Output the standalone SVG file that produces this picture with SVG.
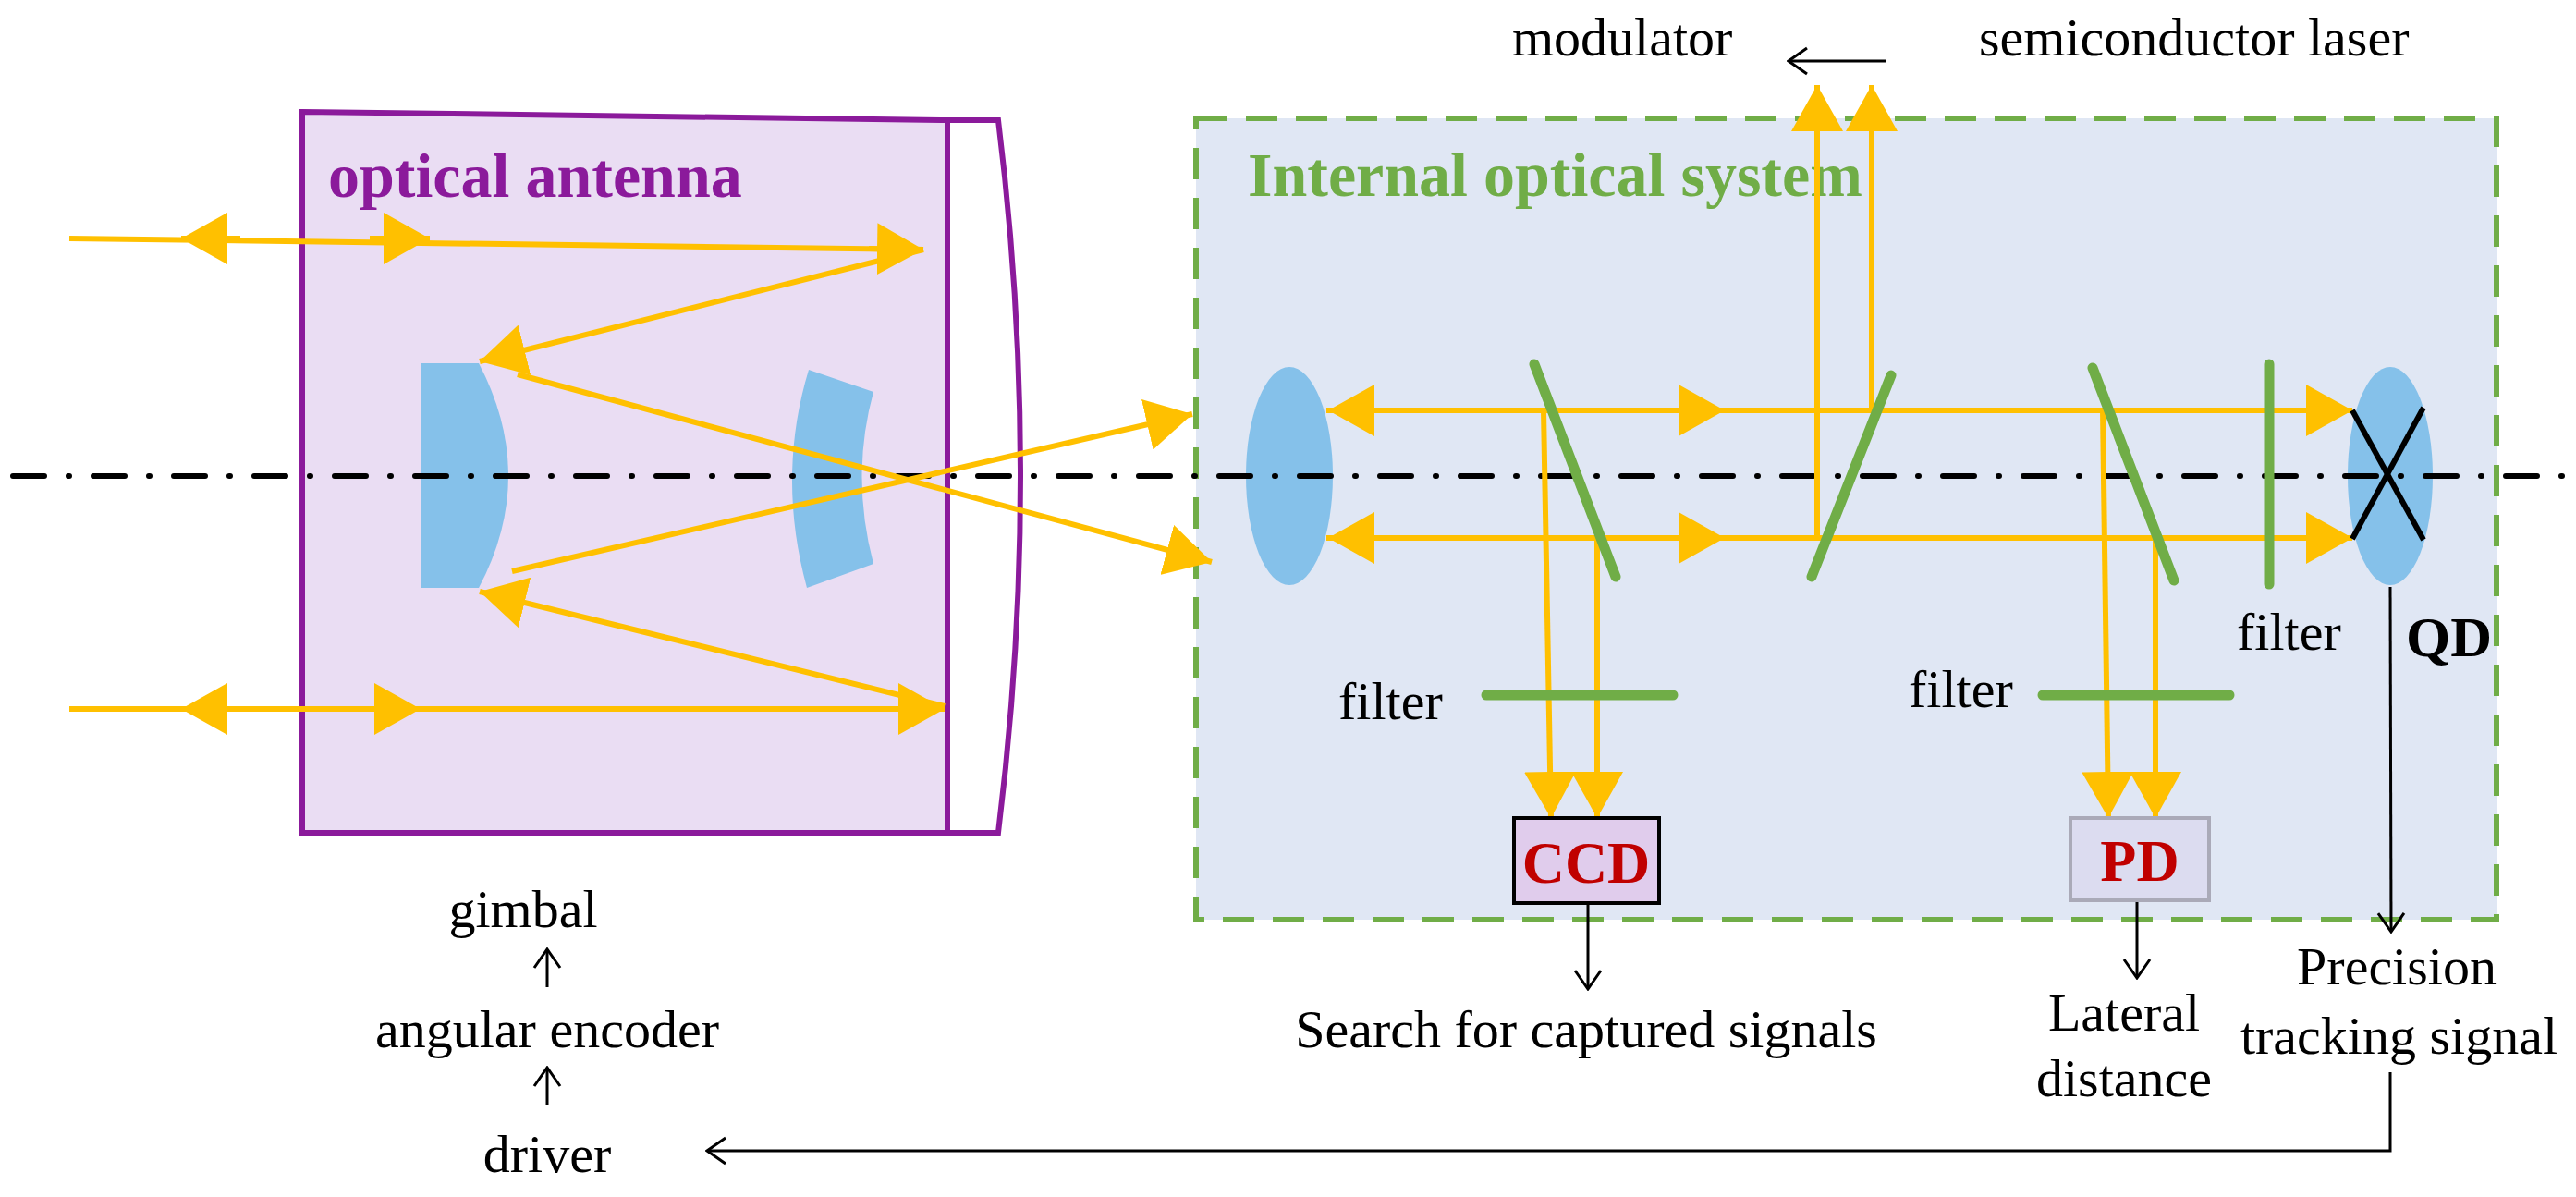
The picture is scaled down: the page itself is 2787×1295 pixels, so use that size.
<svg xmlns="http://www.w3.org/2000/svg" width="2787" height="1295" viewBox="0 0 2787 1295">
<style>
.ray{stroke:#FFC000;stroke-width:6;fill:none}
.mir{stroke:#70AD47;stroke-width:11;stroke-linecap:round;fill:none}
.lens{fill:#85C1EA}
.t{font-family:"Liberation Serif",serif;font-size:58px;fill:#000}
.b{font-family:"Liberation Serif",serif;font-weight:bold}
.k{stroke:#000;stroke-width:3;fill:none}
</style>
<defs>
<marker id="ah" markerUnits="userSpaceOnUse" markerWidth="52" markerHeight="56" refX="50" refY="28" orient="auto"><path d="M0,0 L50,28 L0,56 Z" fill="#FFC000"/></marker>
<marker id="oa" markerUnits="userSpaceOnUse" markerWidth="24" markerHeight="32" refX="22" refY="16" orient="auto"><path d="M2,2 L22,16 L2,30" fill="none" stroke="#000" stroke-width="3"/></marker>
</defs>
<rect width="2787" height="1295" fill="#fff"/>
<g id="antenna">
<path d="M327,121 L1025,130 L1025,901 L327,901 Z" fill="#EADDF3" stroke="#8B1A9B" stroke-width="6"/>
<path d="M1025,130 L1080,130 Q1128,515 1080,901 L1025,901" fill="none" stroke="#8B1A9B" stroke-width="6"/>
<text x="355" y="213" class="b" font-size="68" fill="#8B1A9B">optical antenna</text>
<path class="lens" d="M455,393 L518,393 Q582,515 518,636 L455,636 Z"/>
<path class="lens" d="M875,400 L945,424 Q920,515 945,610 L873,636 Q840,515 875,400 Z"/>
</g>
<g id="internal">
<rect x="1294" y="128" width="1407" height="867" fill="#E0E7F4" stroke="#70AD47" stroke-width="6" stroke-dasharray="34 20"/>
<text x="1350" y="212" class="b" font-size="68" fill="#70AD47">Internal optical system</text>
<ellipse class="lens" cx="1395" cy="515" rx="47" ry="118"/>
<ellipse class="lens" cx="2586" cy="515" rx="46" ry="118"/>
</g>
<g id="axis"><line x1="14" y1="515" x2="2787" y2="515" stroke="#000" stroke-width="6" stroke-linecap="round" stroke-dasharray="34 26 1 26"/></g>
<g id="connectors">
<line class="ray" x1="75" y1="258" x2="999" y2="270"/>
<line class="ray" x1="260" y1="258" x2="196" y2="258" marker-end="url(#ah)"/>
<line class="ray" x1="400" y1="258" x2="465" y2="258" marker-end="url(#ah)"/>
<line class="ray" x1="940" y1="269" x2="999" y2="270" marker-end="url(#ah)"/>
<line class="ray" x1="999" y1="270" x2="519" y2="391" marker-end="url(#ah)"/>
<line class="ray" x1="560" y1="405" x2="1311" y2="608" marker-end="url(#ah)"/>
<line class="ray" x1="554" y1="618" x2="1290" y2="448" marker-end="url(#ah)"/>
<line class="ray" x1="1022" y1="764" x2="519" y2="640" marker-end="url(#ah)"/>
<line class="ray" x1="75" y1="767" x2="1022" y2="767"/>
<line class="ray" x1="260" y1="767" x2="196" y2="767" marker-end="url(#ah)"/>
<line class="ray" x1="390" y1="767" x2="455" y2="767" marker-end="url(#ah)"/>
<line class="ray" x1="960" y1="767" x2="1022" y2="767" marker-end="url(#ah)"/>
<line class="ray" x1="1435" y1="444" x2="2545" y2="444"/>
<line class="ray" x1="1435" y1="582" x2="2545" y2="582"/>
<line class="ray" x1="1500" y1="444" x2="1437" y2="444" marker-end="url(#ah)"/>
<line class="ray" x1="1500" y1="582" x2="1437" y2="582" marker-end="url(#ah)"/>
<line class="ray" x1="1800" y1="444" x2="1866" y2="444" marker-end="url(#ah)"/>
<line class="ray" x1="1800" y1="582" x2="1866" y2="582" marker-end="url(#ah)"/>
<line class="ray" x1="2480" y1="444" x2="2545" y2="444" marker-end="url(#ah)"/>
<line class="ray" x1="2480" y1="582" x2="2545" y2="582" marker-end="url(#ah)"/>
<line class="ray" x1="1670" y1="444" x2="1678" y2="885" marker-end="url(#ah)"/>
<line class="ray" x1="1728" y1="582" x2="1728" y2="885" marker-end="url(#ah)"/>
<line class="ray" x1="2275" y1="444" x2="2281" y2="885" marker-end="url(#ah)"/>
<line class="ray" x1="2332" y1="582" x2="2332" y2="885" marker-end="url(#ah)"/>
<line class="ray" x1="1966" y1="582" x2="1966" y2="92" marker-end="url(#ah)"/>
<line class="ray" x1="2025" y1="444" x2="2025" y2="92" marker-end="url(#ah)"/>
<line class="k" x1="2040" y1="66" x2="1935" y2="66" marker-end="url(#oa)"/>
<line class="k" x1="2586" y1="635" x2="2587" y2="1008" marker-end="url(#oa)"/>
<polyline class="k" points="2586,1160 2586,1245 765,1245" marker-end="url(#oa)"/>
<line class="k" x1="1718" y1="977" x2="1718" y2="1070" marker-end="url(#oa)"/>
<line class="k" x1="2312" y1="974" x2="2312" y2="1058" marker-end="url(#oa)"/>
<line class="k" x1="592" y1="1196" x2="592" y2="1155" marker-end="url(#oa)"/>
<line class="k" x1="592" y1="1068" x2="592" y2="1027" marker-end="url(#oa)"/>
</g>
<g id="mirrors">
<line class="mir" x1="1660" y1="394" x2="1748" y2="624"/>
<line class="mir" x1="2046" y1="406" x2="1960" y2="624"/>
<line class="mir" x1="2264" y1="398" x2="2352" y2="628"/>
<line class="mir" x1="2455" y1="394" x2="2455" y2="632"/>
<line class="mir" x1="1608" y1="752" x2="1810" y2="752"/>
<line class="mir" x1="2210" y1="752" x2="2412" y2="752"/>
<line stroke="#000" stroke-width="6" x1="2545" y1="444" x2="2622" y2="584"/>
<line stroke="#000" stroke-width="6" x1="2622" y1="441" x2="2545" y2="583"/>
</g>
<g id="ccd"><rect x="1638" y="885" width="157" height="92" fill="#E0CCEC" stroke="#000" stroke-width="4"/><text x="1716" y="955" text-anchor="middle" class="b" font-size="64" fill="#C00000">CCD</text></g>
<g id="pd"><rect x="2240" y="885" width="150" height="89" fill="#DCDCF0" stroke="#AAAAB8" stroke-width="4"/><text x="2315" y="953" text-anchor="middle" class="b" font-size="64" fill="#C00000">PD</text></g>
<g id="labels">
<text x="1636" y="60" class="t">modulator</text>
<text x="2141" y="60" class="t">semiconductor laser</text>
<text x="1448" y="778" class="t">filter</text>
<text x="2065" y="765" class="t">filter</text>
<text x="2420" y="703" class="t">filter</text>
<text x="2603" y="710" class="b" font-size="62">QD</text>
<text x="2593" y="1065" text-anchor="middle" class="t">Precision</text>
<text x="2767" y="1140" text-anchor="end" class="t">tracking signal</text>
<text x="1716" y="1133" text-anchor="middle" class="t">Search for captured signals</text>
<text x="2298" y="1115" text-anchor="middle" class="t">Lateral</text>
<text x="2298" y="1186" text-anchor="middle" class="t">distance</text>
<text x="566" y="1003" text-anchor="middle" class="t">gimbal</text>
<text x="592" y="1133" text-anchor="middle" class="t">angular encoder</text>
<text x="592" y="1268" text-anchor="middle" class="t">driver</text>
</g>
</svg>
